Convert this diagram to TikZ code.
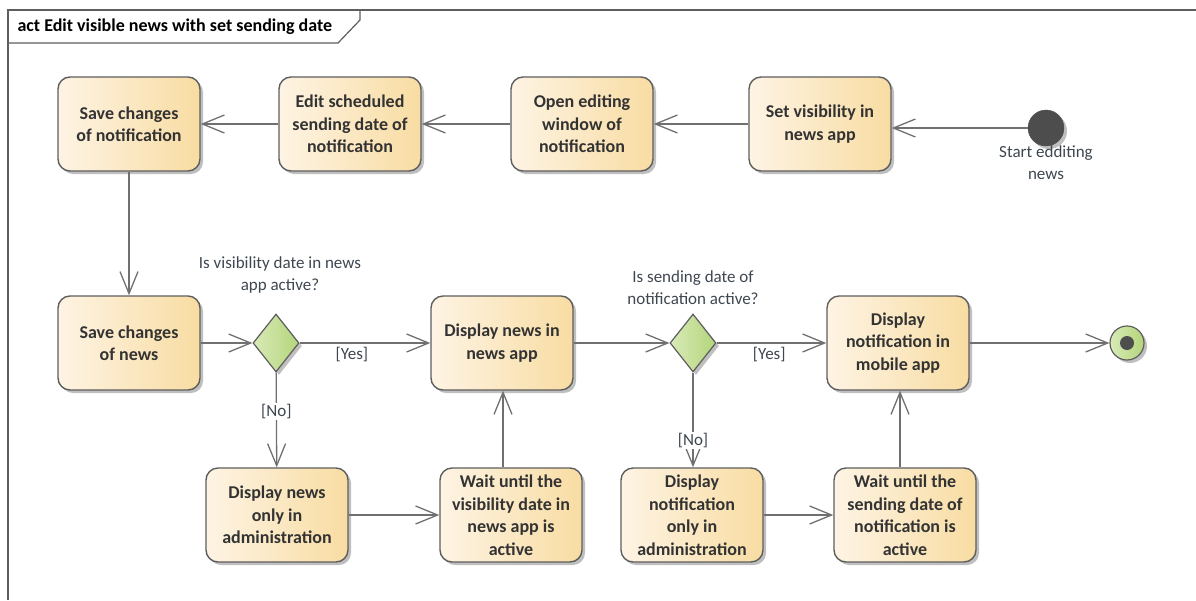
\documentclass[tikz,border=0pt]{standalone}
\usepackage{fontspec}
\setmainfont{Carlito}
\usetikzlibrary{arrows.meta,shapes.geometric,shadows}
\definecolor{edgec}{HTML}{707070}
\definecolor{borderc}{HTML}{5E5E5E}
\definecolor{fillL}{HTML}{FEF4E4}
\definecolor{fillR}{HTML}{F8DCA2}
\definecolor{greenL}{HTML}{D9EAB8}
\definecolor{greenR}{HTML}{B3D57A}
\definecolor{txt}{HTML}{333333}
\definecolor{lbl}{HTML}{3E4650}
\definecolor{dark}{HTML}{4D4D4D}
\begin{document}
\begin{tikzpicture}[x=1pt,y=-1pt,
  shadowed/.style={drop shadow={shadow xshift=3pt,shadow yshift=-3pt,opacity=0.25,fill=black}},
  act/.style={rounded corners=12pt, draw=borderc, line width=1.4pt, left color=fillL, right color=fillR,
    minimum width=142pt, minimum height=94pt, align=center, text=txt, shadowed,
    font=\bfseries\fontsize{18}{22.5}\selectfont},
  dec/.style={diamond, draw=borderc, line width=1.2pt, left color=greenL, right color=greenR,
    minimum width=46pt, minimum height=58pt, inner sep=0pt, shadowed},
  lab/.style={text=lbl, align=center, font=\fontsize{17}{22}\selectfont},
  guard/.style={text=lbl, font=\fontsize{17}{20}\selectfont, fill=white, inner sep=1pt},
  flow/.style={draw=edgec, line width=1.3pt, -{Straight Barb[length=22pt,width=18pt]}},
  frame/.style={draw=borderc, line width=1.2pt}
]
\useasboundingbox (0,0) rectangle (1196,600);
% frame
\draw[frame] (1196,10) -- (8,10) -- (8,600);
\draw[frame] (8,43) -- (338,43) -- (360,20) -- (360,10);
\node[anchor=west, font=\bfseries\fontsize{18}{20}\selectfont, text=black] (title) at (14,27) {act Edit visible news with set sending date};

% nodes
\node[act] (savenotif) at (129,124) {Save changes\\of notification};
\node[act] (editsched) at (350,124) {Edit scheduled\\sending date of\\notification};
\node[act] (openedit) at (582,124) {Open editing\\window of\\notification};
\node[act] (setvis) at (820,124) {Set visibility in\\news app};
\node[circle, fill=dark, draw=dark, minimum size=36pt, inner sep=0pt, shadowed] (start) at (1046,128) {};
\node[lab, anchor=north] (startlab) at (1046,142) {Start edditing\\news};

\node[act] (savenews) at (129,343) {Save changes\\of news};
\node[dec] (d1) at (276,343) {};
\node[lab] (d1lab) at (280,275) {Is visibility date in news\\app active?};
\node[act] (dispnews) at (502,343) {Display news in\\news app};
\node[dec] (d2) at (693,343) {};
\node[lab] (d2lab) at (693,288) {Is sending date of\\notification active?};
\node[act] (dispmob) at (898,343) {Display\\notification in\\mobile app};
\node[circle, draw=borderc, line width=1.2pt, left color=greenL, right color=greenR, minimum size=34pt, inner sep=0pt, shadowed] (final) at (1127,343) {};
\node[circle, fill=dark, minimum size=14pt, inner sep=0pt] (finalin) at (final.center) {};

\node[act] (dispadm) at (277,515) {Display news\\only in\\administration};
\node[act] (waitvis) at (511,515) {Wait until the\\visibility date in\\news app is\\active};
\node[act] (notifadm) at (692,515) {Display\\notification\\only in\\administration};
\node[act] (waitsend) at (905,515) {Wait until the\\sending date of\\notification is\\active};

% connectors
\draw[flow] (start.west) -- (setvis.east |- start.west);
\draw[flow] (setvis) -- (openedit);
\draw[flow] (openedit) -- (editsched);
\draw[flow] (editsched) -- (savenotif);
\draw[flow] (savenotif) -- (savenews);
\draw[flow] (savenews) -- (d1);
\draw[flow] (d1) -- node[guard, below=3pt, pos=0.4] (yes1) {[Yes]} (dispnews);
\draw[flow] (d1) -- node[guard, pos=0.41] (no1) {[No]} (dispadm);
\draw[flow] (dispadm) -- (waitvis);
\draw[flow] (waitvis.north -| 503,0) -- (dispnews.south -| 503,0);
\draw[flow] (dispnews) -- (d2);
\draw[flow] (d2) -- node[guard, below=3pt, pos=0.48] (yes2) {[Yes]} (dispmob);
\draw[flow] (d2) -- node[guard, pos=0.72] (no2) {[No]} (notifadm.north -| d2.south);
\draw[flow] (notifadm) -- (waitsend);
\draw[flow] (waitsend.north -| 900,0) -- (dispmob.south -| 900,0);
\draw[flow] (dispmob) -- (final);
\end{tikzpicture}
\end{document}
